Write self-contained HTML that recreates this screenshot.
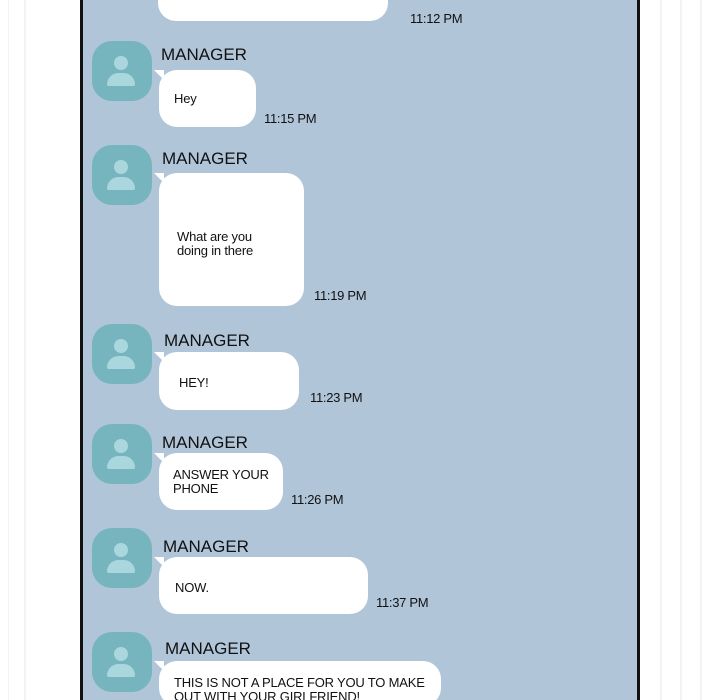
<!DOCTYPE html>
<html style="width:720px;height:700px;overflow:hidden"><head><style>
body{margin:0;width:720px;height:700px;overflow:hidden;background:#fff;position:relative;font-family:"Liberation Sans",sans-serif;}
.l{position:absolute;top:0;height:700px;width:2px;background:#f2f3f5}
.panel{position:absolute;left:80px;top:-5px;width:554px;height:705px;background:#b1c5d9;border-left:3px solid #111;border-right:3px solid #111}
.av{position:absolute;left:92px;width:60px;height:60px;border-radius:20px;background:#76b4be}
.av:before{content:"";position:absolute;left:22px;top:15px;width:14px;height:14px;border-radius:50%;background:#a9d7dd}
.av:after{content:"";position:absolute;left:15px;top:32px;width:28px;height:13px;border-radius:14px 14px 2px 2px;background:#a9d7dd}
.n{position:absolute;font-size:17px;color:#111;}
.b{position:absolute;left:159px;background:#fff;border-radius:18px;font-size:13px;color:#111;line-height:14px}
.b:before{content:"";position:absolute;left:-5px;top:0;border-top:10px solid #fff;border-left:10px solid transparent;}
.b span{position:absolute;white-space:nowrap;letter-spacing:-0.2px}
.t{position:absolute;font-size:13px;color:#111;letter-spacing:-0.3px}
</style></head><body>
<div class="l" style="left:24px"></div><div class="l" style="left:8px;width:1px"></div>
<div class="l" style="left:660px"></div><div class="l" style="left:680px"></div><div class="l" style="left:700px"></div>
<div class="panel"></div>
<div class="b" style="left:158px;top:-20px;width:230px;height:41px;"></div>
<div class="t" style="left:410px;top:11px">11:12 PM</div>

<div class="av" style="top:41px"></div>
<div class="n" style="left:161px;top:45px">MANAGER</div>
<div class="b" style="top:70px;width:97px;height:57px"><span style="left:15px;top:22px">Hey</span></div>
<div class="t" style="left:264px;top:111px">11:15 PM</div>

<div class="av" style="top:145px"></div>
<div class="n" style="left:162px;top:149px">MANAGER</div>
<div class="b" style="top:173px;width:145px;height:133px"><span style="left:18px;top:57px">What are you<br>doing in there</span></div>
<div class="t" style="left:314px;top:288px">11:19 PM</div>

<div class="av" style="top:324px"></div>
<div class="n" style="left:164px;top:331px">MANAGER</div>
<div class="b" style="top:352px;width:140px;height:58px"><span style="left:20px;top:24px">HEY!</span></div>
<div class="t" style="left:310px;top:390px">11:23 PM</div>

<div class="av" style="top:424px"></div>
<div class="n" style="left:162px;top:433px">MANAGER</div>
<div class="b" style="top:453px;width:124px;height:57px"><span style="left:14px;top:15px">ANSWER YOUR<br>PHONE</span></div>
<div class="t" style="left:291px;top:492px">11:26 PM</div>

<div class="av" style="top:528px"></div>
<div class="n" style="left:163px;top:537px">MANAGER</div>
<div class="b" style="top:557px;width:209px;height:57px"><span style="left:16px;top:24px">NOW.</span></div>
<div class="t" style="left:376px;top:595px">11:37 PM</div>

<div class="av" style="top:632px"></div>
<div class="n" style="left:165px;top:639px">MANAGER</div>
<div class="b" style="top:661px;width:282px;height:45px"><span style="left:15px;top:15px">THIS IS NOT A PLACE FOR YOU TO MAKE<br>OUT WITH YOUR GIRLFRIEND!</span></div>
</body></html>
